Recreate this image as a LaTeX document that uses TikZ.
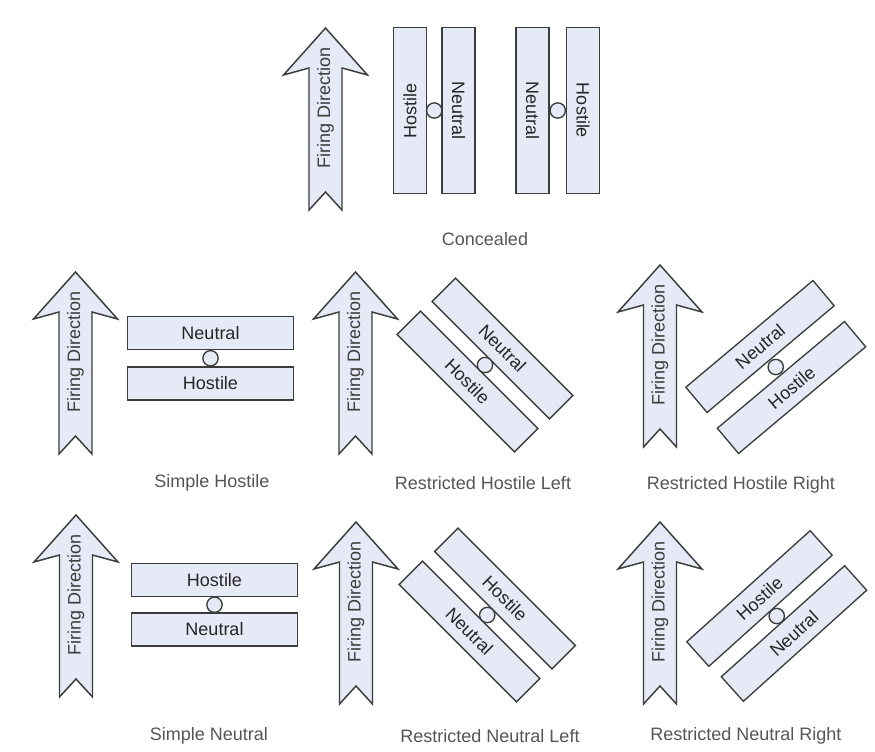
\documentclass[tikz,border=0pt]{standalone}
\usepackage{fontspec}
\setmainfont{Liberation Sans}
\usetikzlibrary{calc}
\definecolor{boxfill}{HTML}{E6EAF6}
\definecolor{boxline}{HTML}{3C3C3C}
\definecolor{labelgray}{HTML}{555555}
\tikzset{
	arrowbody/.style={draw=boxline, fill=boxfill, line width=1.1pt, line join=miter},
	firetext/.style={rotate=90, inner sep=0pt, text=boxline, font=\fontsize{13.5}{16}\selectfont},
	cell/.style={draw=boxline, fill=boxfill, line width=1pt, minimum width=124.5pt, minimum height=24.75pt, inner sep=0pt, text=black!85, font=\fontsize{13.5}{16}\selectfont},
	pin/.style={circle, draw=boxline, fill=boxfill, line width=1pt, minimum size=11.5pt, inner sep=0pt},
	caption/.style={text=labelgray, font=\fontsize{13.5}{16}\selectfont}
}
\begin{document}
\begin{tikzpicture}[x=0.75pt, y=-0.75pt]
		\useasboundingbox (0,0) rectangle (875,751);
		% firing direction arrows
		\foreach \name/\cx/\ty in {fTop/325.5/28, fSH/75.5/272, fRHL/355.5/272, fRHR/660/265, fSN/76/515, fRNL/356/522, fRNR/660/522} {
			\draw[arrowbody, shift={(\cx,\ty)}] (0,0) -- (42,47) -- (16.5,40) -- (16.5,182) -- (0,164) -- (-16.5,182) -- (-16.5,40) -- (-42,47) -- cycle;
			\node[firetext] (\name) at (\cx,\ty+80) {Firing Direction};
		}
		% concealed
		\node[cell, rotate=90] (cHost) at (410,110.5) {Hostile};
		\node[cell, rotate=-90] (cNeut) at (458.5,110.5) {Neutral};
		\node[cell, rotate=-90] (cNeutB) at (532.5,110.5) {Neutral};
		\node[cell, rotate=-90] (cHostB) at (583,110.5) {Hostile};
		\node[pin] (cPinA) at ($(cHost)!.5!(cNeut)$) {};
		\node[pin] (cPinB) at ($(cNeutB)!.5!(cHostB)$) {};
		\node[caption] (lC) at (485,239) {Concealed};
		% simple hostile
		\node[cell] (shNeut) at (210.5,333) {Neutral};
		\node[cell] (shHost) at (210.5,383.5) {Hostile};
		\node[pin] (shPin) at ($(shNeut)!.5!(shHost)$) {};
		\node[caption] (lSH) at (212,483) {Simple Hostile};
		% restricted hostile left
		\node[cell, rotate=-45] (rhlHost) at (467.5,381.5) {Hostile};
		\node[cell, rotate=-45] (rhlNeut) at (502.5,348.5) {Neutral};
		\node[pin] (rhlPin) at ($(rhlHost)!.5!(rhlNeut)$) {};
		\node[caption] (lRHL) at (483,483) {Restricted Hostile Left};
		% restricted hostile right
		\node[cell, rotate=40] (rhrNeut) at (760,346.5) {Neutral};
		\node[cell, rotate=40] (rhrHost) at (791.5,387.5) {Hostile};
		\node[pin] (rhrPin) at ($(rhrNeut)!.5!(rhrHost)$) {};
		\node[caption] (lRHR) at (741,485) {Restricted Hostile Right};
		% simple neutral
		\node[cell] (snHost) at (214.5,580) {Hostile};
		\node[cell] (snNeut) at (214.5,629.5) {Neutral};
		\node[pin] (snPin) at ($(snHost)!.5!(snNeut)$) {};
		\node[caption] (lSN) at (209,736) {Simple Neutral};
		% restricted neutral left
		\node[cell, rotate=-45] (rnlNeut) at (469.5,631.5) {Neutral};
		\node[cell, rotate=-45] (rnlHost) at (505,598.5) {Hostile};
		\node[pin] (rnlPin) at ($(rnlNeut)!.5!(rnlHost)$) {};
		\node[caption] (lRNL) at (490,736) {Restricted Neutral Left};
		% restricted neutral right
		\node[cell, rotate=42] (rnrHost) at (759.5,598.5) {Hostile};
		\node[cell, rotate=42] (rnrNeut) at (794,633.5) {Neutral};
		\node[pin] (rnrPin) at ($(rnrHost)!.5!(rnrNeut)$) {};
		\node[caption] (lRNR) at (746,736) {Restricted Neutral Right};
	\end{tikzpicture}
\end{document}
